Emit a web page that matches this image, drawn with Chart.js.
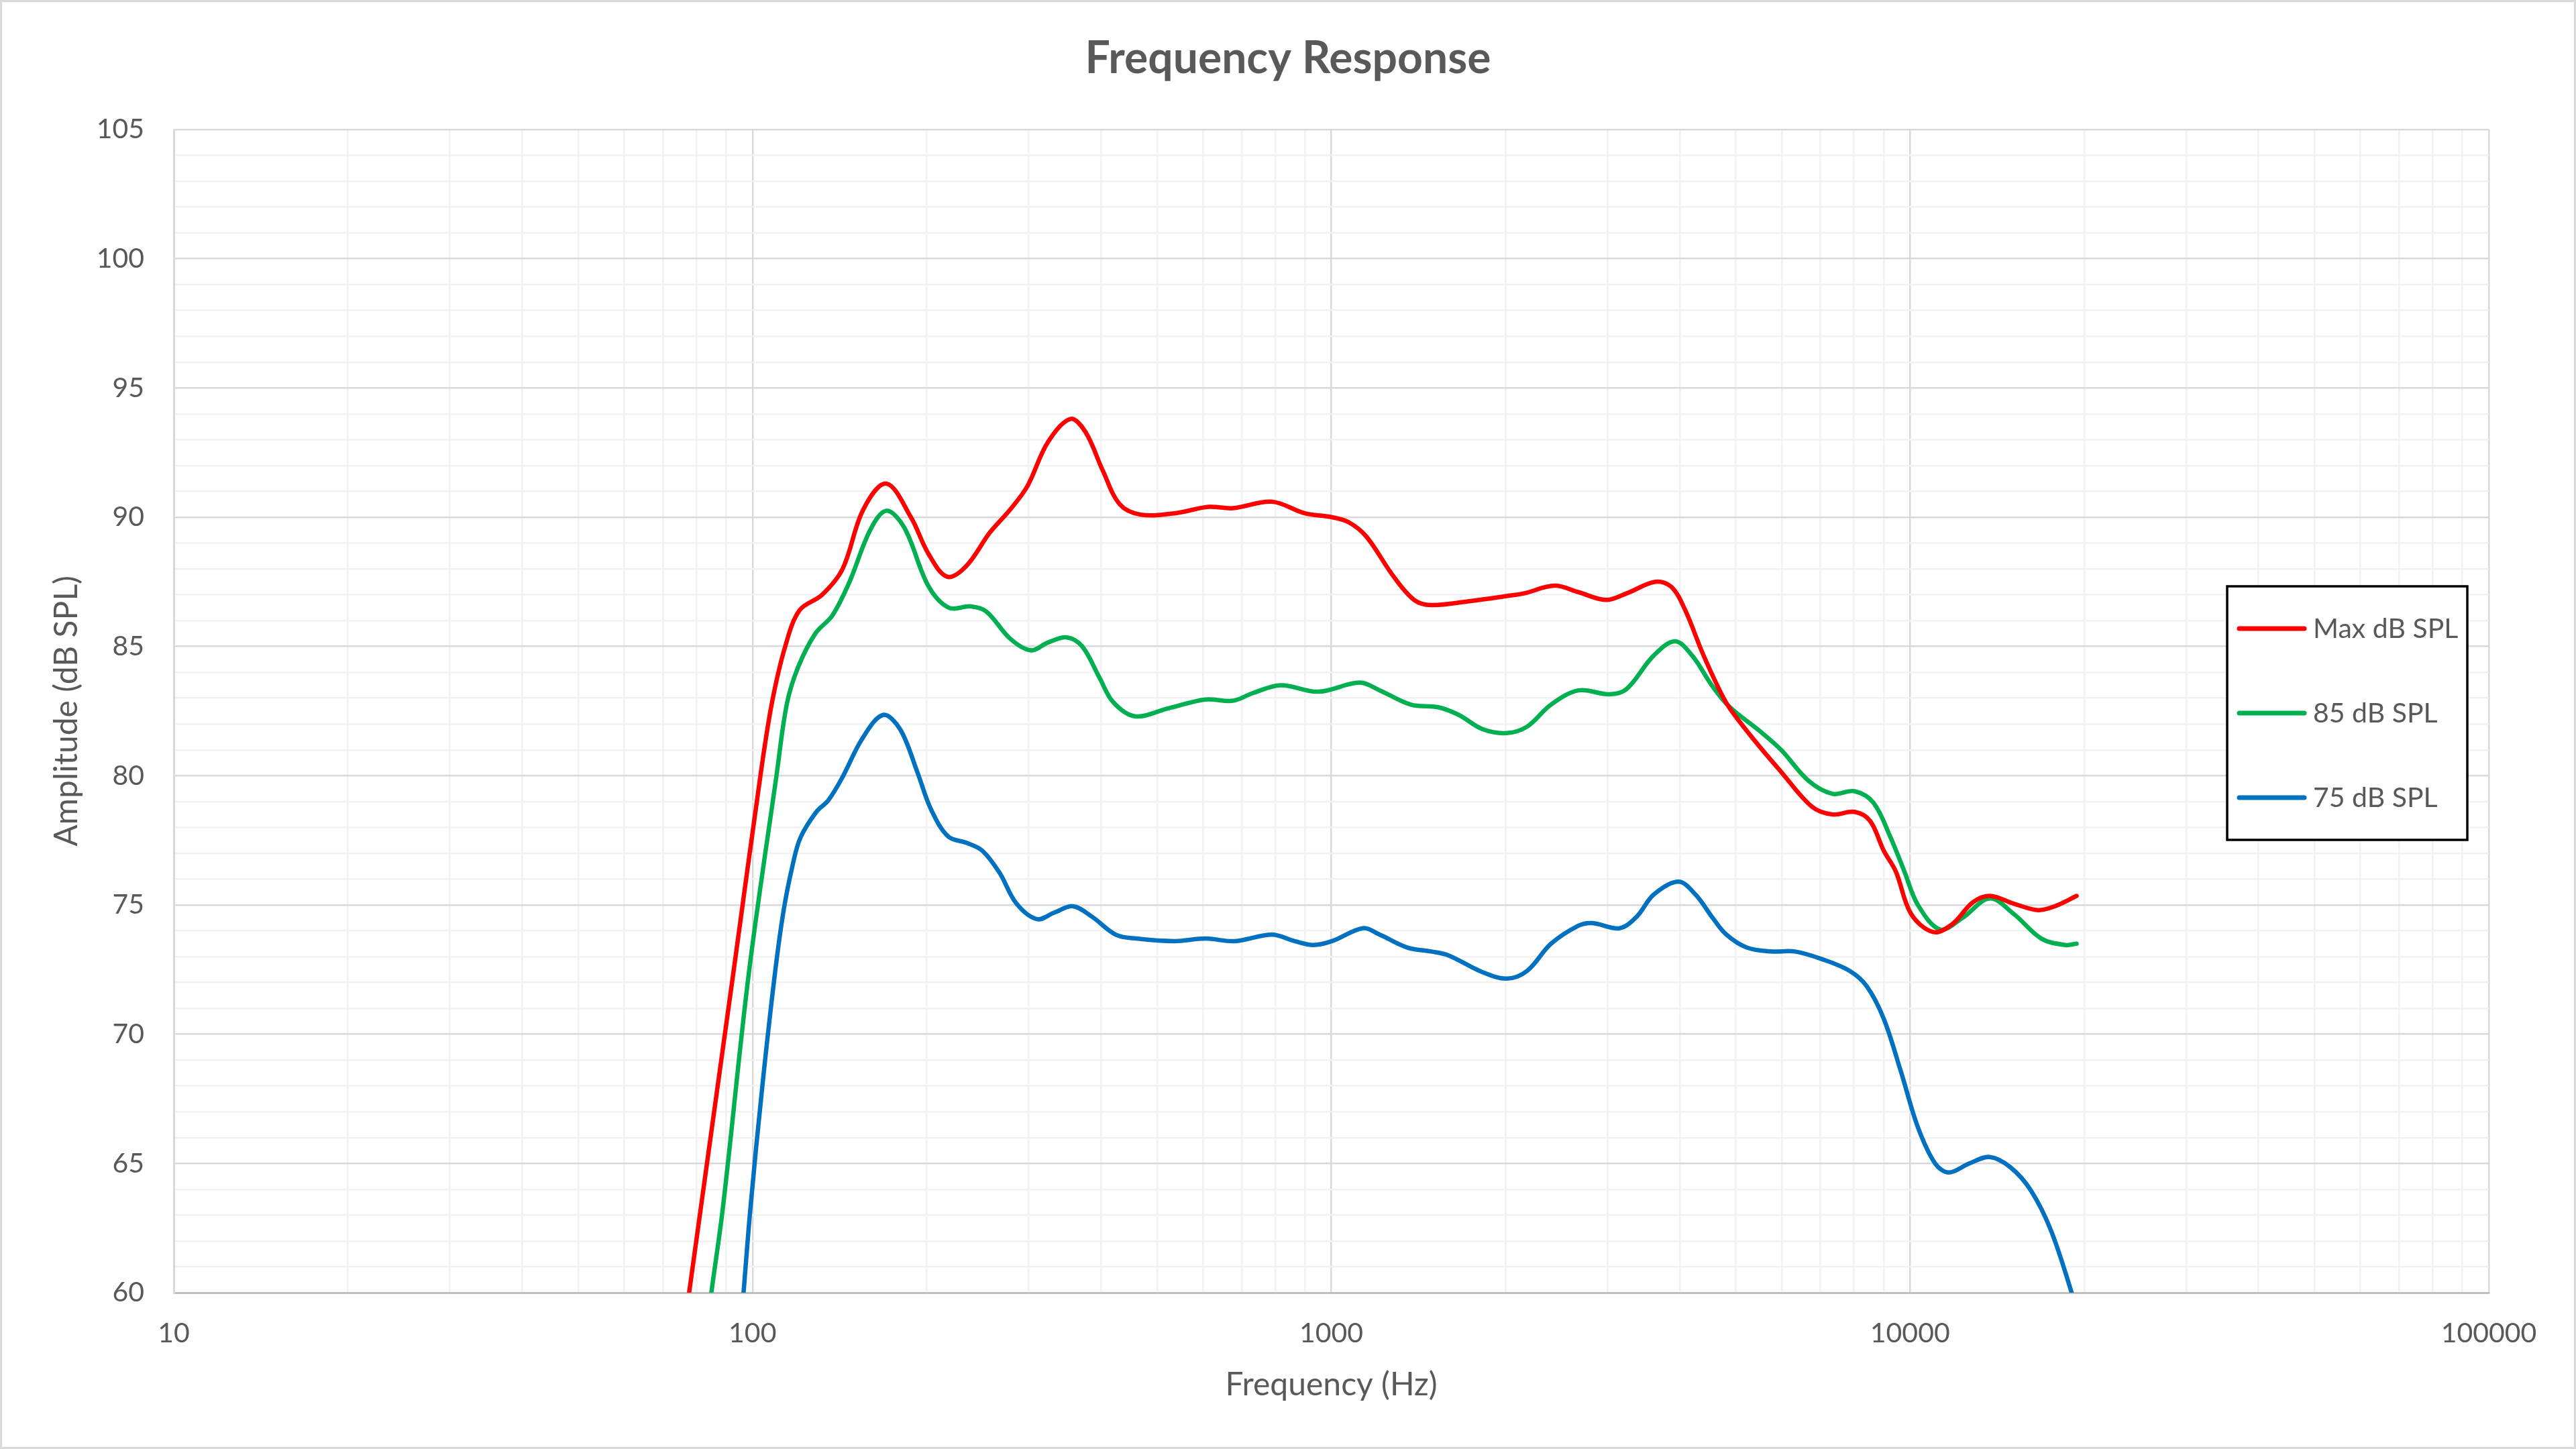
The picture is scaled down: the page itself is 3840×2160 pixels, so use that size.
<!DOCTYPE html>
<html>
<head>
<meta charset="utf-8">
<title>Frequency Response</title>
<script src="https://cdn.jsdelivr.net/npm/chart.js@4.4.1/dist/chart.umd.min.js"></script>
<style>
  html, body { margin: 0; padding: 0; background: #ffffff; }
  #wrap { width: 3840px; height: 2160px; }
</style>
</head>
<body>
<div id="wrap"><canvas id="myChart" width="3840" height="2160"></canvas></div>
<script>
// Series: frequency (Hz) and level (dB SPL)
const freqMax = [72, 77.6, 92.7, 103.2, 108, 113.9, 120.6, 131.9, 143.1, 155.4, 170.3, 187.8,
    201.2, 216.8, 233.8, 257, 278.8, 298.5, 323.8, 354, 376, 403, 431, 468, 536, 614, 676, 790, 900,
    1003, 1073, 1150, 1282, 1391, 1489, 1729, 2010, 2150, 2431, 2674, 2983, 3236, 3631, 3873, 4089,
    4379, 4689, 4883, 5370, 5987, 6769, 7345, 8023, 8531, 9006, 9448, 10046, 10970, 11820, 12837,
    13730, 15113, 16630, 17790, 19400];
const splMax = [54.5, 59.9, 72.4, 80.0, 82.8, 85.0, 86.4, 87.0, 88.0, 90.3, 91.3, 90.0,
    88.6, 87.7, 88.1, 89.4, 90.3, 91.2, 92.9, 93.8, 93.3, 91.8, 90.5, 90.1, 90.15, 90.4, 90.35, 90.6, 90.15,
    90.0, 89.8, 89.25, 87.7, 86.8, 86.6, 86.75, 86.95, 87.05, 87.35, 87.1, 86.8, 87.05, 87.5, 87.3, 86.4,
    84.75, 83.3, 82.6, 81.4, 80.15, 78.8, 78.5, 78.6, 78.25, 77.1, 76.3, 74.65, 73.95, 74.25, 75.1,
    75.35, 75.05, 74.8, 74.95, 75.35];

const freq85 = [80, 84.9, 88.9, 98.6, 110, 114.7, 119.9, 128.4, 137.4, 147.1, 159.7, 170.3, 182.9,
    201.2, 218.3, 238.5, 253.6, 278.8, 302.7, 323.8, 349.2, 371.3, 397.5, 419.8, 458, 522, 606, 676, 733,
    818, 950, 1119, 1213, 1372, 1530, 1661, 1826, 2010, 2180, 2397, 2674, 3022, 3236, 3607, 3926, 4202,
    4560, 4883, 5519, 5987, 6681, 7345, 8023, 8648, 9259, 9777, 10318, 11277, 12322, 13730, 15113,
    16860, 18550, 19400];
const spl85 = [55.5, 60.0, 63.3, 72.4, 80.0, 82.8, 84.2, 85.5, 86.2, 87.5, 89.5, 90.25, 89.6,
    87.35, 86.5, 86.55, 86.35, 85.3, 84.85, 85.15, 85.35, 85.0, 83.8, 82.85, 82.3, 82.6, 82.95, 82.9, 83.2,
    83.5, 83.25, 83.6, 83.3, 82.75, 82.65, 82.35, 81.8, 81.65, 81.9, 82.75, 83.3, 83.15, 83.35, 84.65, 85.2, 84.65,
    83.45, 82.65, 81.7, 81.0, 79.8, 79.3, 79.4, 78.95, 77.6, 76.3, 75.0, 74.05, 74.5, 75.25, 74.65,
    73.7, 73.45, 73.5];

const freq75 = [93, 96.5, 99.2, 104, 109.4, 113.2, 117.2, 121, 128.9, 135.2, 142.7, 154.9, 168.1, 179.9,
    192.6, 203.4, 217.8, 234.6, 249.5, 267.1, 285.9, 310.1, 332, 357.9, 385.8, 424.4, 460.5, 536, 606, 681,
    790, 864, 931, 1003, 1134, 1213, 1354, 1489, 1594, 1826, 2010, 2180, 2397, 2674, 2825, 3149, 3372,
    3607, 3980, 4260, 4560, 4817, 5224, 5748, 6324, 7052, 7864, 8421, 9006, 9645, 10318, 11050, 11670,
    12662, 13730, 14913, 16180, 17560, 19400];
const spl75 = [55.5, 60.0, 63.3, 68.0, 72.4, 74.8, 76.5, 77.6, 78.6, 79.05, 79.9, 81.45, 82.35, 81.8,
    80.15, 78.7, 77.65, 77.4, 77.1, 76.25, 75.05, 74.45, 74.7, 74.95, 74.55, 73.85, 73.7, 73.6, 73.7, 73.6,
    73.85, 73.6, 73.45, 73.6, 74.1, 73.85, 73.35, 73.2, 73.05, 72.4, 72.15, 72.45, 73.5, 74.2, 74.3, 74.1, 74.55,
    75.4, 75.9, 75.4, 74.5, 73.85, 73.35, 73.2, 73.2, 72.9, 72.45, 71.85, 70.6, 68.55, 66.4, 65.0, 64.65,
    65.0, 65.25, 64.85, 63.95, 62.35, 59.4];

const seriesLabels = ['Max dB SPL', '85 dB SPL', '75 dB SPL'];
const xTickLabels = [10, 100, 1000, 10000, 100000];
const yTickLabels = [60, 65, 70, 75, 80, 85, 90, 95, 100, 105];

const FONT = 'Lato, "Open Sans", sans-serif';
const TEXT = '#595959';

function toPoints(xs, ys) {
    return xs.map((f, i) => ({ x: f, y: ys[i] }));
}

// white page, thin frame round the whole chart and the title centred on the page
const frame = {
    id: 'frame',
    beforeDraw(chart) {
        const ctx = chart.ctx;
        ctx.save();
        ctx.fillStyle = '#ffffff';
        ctx.fillRect(0, 0, chart.width, chart.height);
        ctx.strokeStyle = '#d9d9d9';
        ctx.lineWidth = 3;
        ctx.strokeRect(1.5, 1.5, chart.width - 3, chart.height - 3);
        ctx.fillStyle = TEXT;
        ctx.font = 'bold 66px ' + FONT;
        ctx.textAlign = 'center';
        ctx.textBaseline = 'middle';
        ctx.fillText('Frequency Response', chart.width / 2, 88);
        ctx.restore();
    }
};

// legend box sitting inside the plot, like the Excel one
const boxLegend = {
    id: 'boxLegend',
    afterDraw(chart) {
        const ctx = chart.ctx;
        const left = 3320, top = 874, w = 358, h = 378;
        ctx.save();
        ctx.fillStyle = '#ffffff';
        ctx.fillRect(left, top, w, h);
        ctx.strokeStyle = '#000000';
        ctx.lineWidth = 3.5;
        ctx.strokeRect(left, top, w, h);
        chart.data.datasets.forEach((ds, i) => {
            const y = 937 + i * 126;
            ctx.strokeStyle = ds.borderColor;
            ctx.lineWidth = 7;
            ctx.lineCap = 'round';
            ctx.beginPath();
            ctx.moveTo(3338, y);
            ctx.lineTo(3435, y);
            ctx.stroke();
            ctx.fillStyle = TEXT;
            ctx.font = '41px ' + FONT;
            ctx.textBaseline = 'middle';
            ctx.fillText(ds.label, 3448, y + 1);
        });
        ctx.restore();
    }
};

const config = {
    type: 'line',
    data: {
        datasets: [
            { label: seriesLabels[0], data: toPoints(freqMax, splMax), borderColor: '#FF0000' },
            { label: seriesLabels[1], data: toPoints(freq85, spl85), borderColor: '#00B050' },
            { label: seriesLabels[2], data: toPoints(freq75, spl75), borderColor: '#0070C0' }
        ]
    },
    options: {
        responsive: false,
        animation: false,
        devicePixelRatio: 1,
        layout: { padding: { left: 0, right: 130, top: 193, bottom: 0 } },
        elements: {
            point: { radius: 0 },
            line: { borderWidth: 6.5, tension: 0.35, fill: false, borderCapStyle: 'round', borderJoinStyle: 'round' }
        },
        scales: {
            x: {
                type: 'logarithmic',
                min: 10,
                max: 100000,
                afterBuildTicks: function (scale) {
                    const ticks = [];
                    for (let d = 10; d < 100000; d *= 10) {
                        for (let k = 1; k < 10; k++) ticks.push({ value: d * k });
                    }
                    ticks.push({ value: 100000 });
                    scale.ticks = ticks;
                },
                afterFit: function (scale) { scale.height = 233; },
                grid: {
                    drawTicks: false,
                    lineWidth: 2.5,
                    color: ctx => xTickLabels.includes(ctx.tick.value) ? '#d9d9d9' : '#f2f2f2'
                },
                border: { display: true, color: '#bfbfbf', width: 3 },
                ticks: {
                    autoSkip: false,
                    maxRotation: 0,
                    padding: 36,
                    color: TEXT,
                    font: { family: FONT, size: 41 },
                    callback: v => xTickLabels.includes(v) ? String(v) : ''
                },
                title: {
                    display: true,
                    text: 'Frequency (Hz)',
                    color: TEXT,
                    font: { family: FONT, size: 48 },
                    padding: { top: 0, bottom: 67 }
                }
            },
            y: {
                type: 'linear',
                min: 60,
                max: 105,
                afterBuildTicks: function (scale) {
                    const ticks = [];
                    for (let v = 60; v <= 105; v++) ticks.push({ value: v });
                    scale.ticks = ticks;
                },
                afterFit: function (scale) { scale.width = 259; },
                grid: {
                    drawTicks: false,
                    lineWidth: 2.5,
                    color: ctx => yTickLabels.includes(ctx.tick.value) ? '#d9d9d9' : '#f2f2f2'
                },
                border: { display: true, color: '#d9d9d9', width: 3 },
                ticks: {
                    autoSkip: false,
                    padding: 44,
                    color: TEXT,
                    font: { family: FONT, size: 41 },
                    callback: v => yTickLabels.includes(v) ? String(v) : ''
                },
                title: {
                    display: true,
                    text: 'Amplitude (dB SPL)',
                    color: TEXT,
                    font: { family: FONT, size: 48 },
                    padding: { top: 71, bottom: 0 }
                }
            }
        },
        plugins: {
            legend: { display: false },
            tooltip: { enabled: false },
            title: { display: false }
        }
    },
    plugins: [frame, boxLegend]
};

const ctx = document.getElementById('myChart').getContext('2d');
new Chart(ctx, config);
</script>
</body>
</html>
